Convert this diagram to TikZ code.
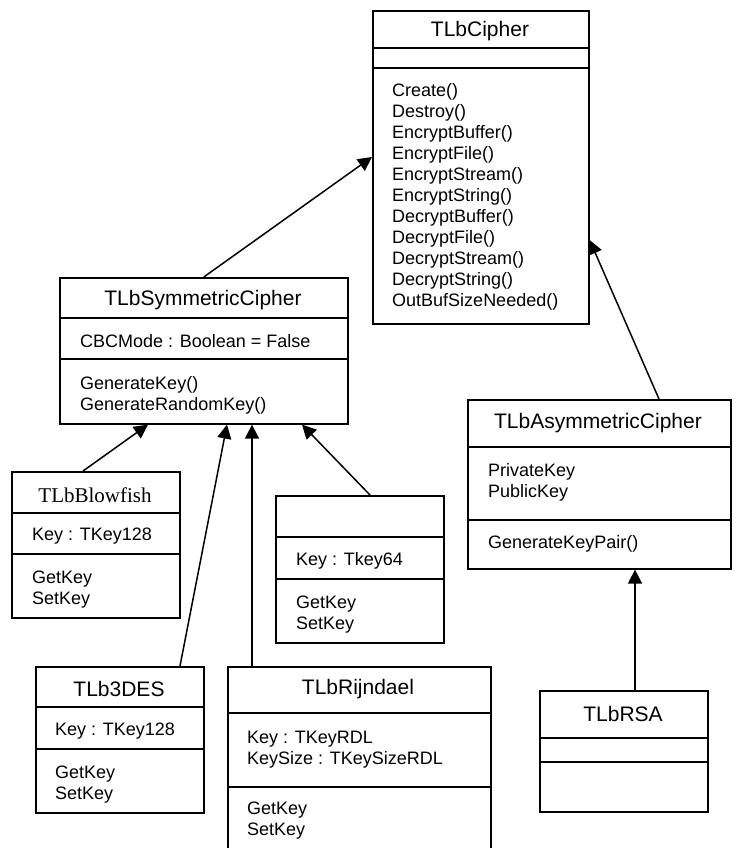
\documentclass[tikz,border=0pt]{standalone}
\usepackage{fontspec}
\setmainfont{Liberation Sans}
\newfontfamily\timesface{Liberation Serif}
\usetikzlibrary{arrows.meta,calc}

\begin{document}
\begin{tikzpicture}[
  x=1pt, y=-1pt,
  font=\fontsize{18}{21}\selectfont,
  cls/.style={draw, line width=1.6pt, anchor=north west, inner sep=0pt},
  cname/.style={font=\fontsize{21}{25}\selectfont, inner sep=0pt},
  memb/.style={anchor=north west, inner sep=0pt, align=left},
  sep/.style={line width=1.6pt},
  inh/.style={-{Triangle[length=14pt,width=14pt]}, line width=1.5pt},
]
\fill[white] (0,0) rectangle (736,848);
\useasboundingbox (0,0) rectangle (736,848);

% TLbCipher
\node[cls, minimum width=216, minimum height=313] (cipher) at (372,10) {};
\node[cname] (cipher-t) at (480,31) {TLbCipher};
\draw[sep] (cipher.west |- 0,48) -- (cipher.east |- 0,48);
\draw[sep] (cipher.west |- 0,68) -- (cipher.east |- 0,68);
\node[memb] (cipher-m) at (392,82) {\strut Create()\\Destroy()\\EncryptBuffer()\\EncryptFile()\\EncryptStream()\\EncryptString()\\DecryptBuffer()\\DecryptFile()\\DecryptStream()\\DecryptString()\\OutBufSizeNeeded()};

% TLbSymmetricCipher
\node[cls, minimum width=288, minimum height=146] (sym) at (59,277) {};
\node[cname] (sym-t) at (203,300) {TLbSymmetricCipher};
\draw[sep] (sym.west |- 0,318) -- (sym.east |- 0,318);
\draw[sep] (sym.west |- 0,359) -- (sym.east |- 0,359);
\node[memb] (sym-a) at (80,333) {\strut CBCMode : Boolean = False};
\node[memb] (sym-m) at (80,375) {\strut GenerateKey()\\GenerateRandomKey()};

% TLbBlowfish
\node[cls, minimum width=168, minimum height=146] (blow) at (11,471) {};
\node[cname, font=\timesface\fontsize{21}{25}\selectfont] (blow-t) at (95,495) {TLbBlowfish};
\draw[sep] (blow.west |- 0,513) -- (blow.east |- 0,513);
\draw[sep] (blow.west |- 0,554) -- (blow.east |- 0,554);
\node[memb] (blow-a) at (32,526) {\strut Key : TKey128};
\node[memb] (blow-m) at (32,569) {\strut GetKey\\SetKey};

% class with no name
\node[cls, minimum width=168, minimum height=147] (anon) at (275,495) {};
\draw[sep] (anon.west |- 0,537) -- (anon.east |- 0,537);
\draw[sep] (anon.west |- 0,579) -- (anon.east |- 0,579);
\node[memb] (anon-a) at (296,551) {\strut Key : Tkey64};
\node[memb] (anon-m) at (296,594) {\strut GetKey\\SetKey};

% TLbAsymmetricCipher
\node[cls, minimum width=263, minimum height=169] (asym) at (467,399) {};
\node[cname] (asym-t) at (598,423) {TLbAsymmetricCipher};
\draw[sep] (asym.west |- 0,447) -- (asym.east |- 0,447);
\draw[sep] (asym.west |- 0,520) -- (asym.east |- 0,520);
\node[memb] (asym-a) at (488,462) {\strut PrivateKey\\PublicKey};
\node[memb] (asym-m) at (488,534) {\strut GenerateKeyPair()};

% TLb3DES
\node[cls, minimum width=168, minimum height=146] (tdes) at (35,666) {};
\node[cname] (tdes-t) at (119,689) {TLb3DES};
\draw[sep] (tdes.west |- 0,707) -- (tdes.east |- 0,707);
\draw[sep] (tdes.west |- 0,749) -- (tdes.east |- 0,749);
\node[memb] (tdes-a) at (55,721) {\strut Key : TKey128};
\node[memb] (tdes-m) at (55,764) {\strut GetKey\\SetKey};

% TLbRijndael
\node[cls, minimum width=263, minimum height=194] (rijn) at (227,666) {};
\node[cname] (rijn-t) at (358,689) {TLbRijndael};
\draw[sep] (rijn.west |- 0,713) -- (rijn.east |- 0,713);
\draw[sep] (rijn.west |- 0,787) -- (rijn.east |- 0,787);
\node[memb] (rijn-a) at (247,729) {\strut Key : TKeyRDL\\KeySize : TKeySizeRDL};
\node[memb] (rijn-m) at (247,800) {\strut GetKey\\SetKey};

% TLbRSA
\node[cls, minimum width=168, minimum height=121] (rsa) at (539,690) {};
\node[cname] (rsa-t) at (623,714) {TLbRSA};
\draw[sep] (rsa.west |- 0,738) -- (rsa.east |- 0,738);
\draw[sep] (rsa.west |- 0,762) -- (rsa.east |- 0,762);

% inheritance
\draw[inh] (sym.north) -- (cipher.west |- 0,157);
\draw[inh] (asym.north -| 659,0) -- (cipher.east |- 0,240);
\draw[inh] (blow.north -| 83,0) -- (sym.south -| 148,0);
\draw[inh] (tdes.north -| 180,0) -- (sym.south -| 227,0);
\draw[inh] (rijn.north -| 252,0) -- (sym.south -| 252,0);
\draw[inh] (anon.north -| 370,0) -- (sym.south -| 302,0);
\draw[inh] (rsa.north -| 635,0) -- (asym.south -| 635,0);
\end{tikzpicture}
\end{document}
